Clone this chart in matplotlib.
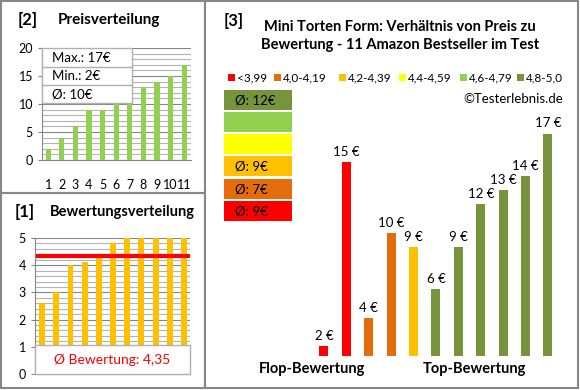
import numpy as np
import matplotlib.pyplot as plt
from matplotlib.patches import Rectangle

plt.rcParams['font.family'] = ['Lato', 'DejaVu Sans']

# data, products ordered by rating (as in panel [3])
prices = [2, 15, 4, 10, 9, 6, 9, 12, 13, 14, 17]
ratings = [2.6, 3.0, 4.0, 4.1, 4.3, 4.8, 5.0, 5.0, 5.0, 5.0, 5.0]

bin_labels = ['<3,99', '4,0-4,19', '4,2-4,39', '4,4-4,59', '4,6-4,79', '4,8-5,0']
bin_edges = [0, 3.995, 4.195, 4.395, 4.595, 4.795, 5.01]
bin_colors = ['#FF0000', '#E46C0A', '#FFC000', '#FFFF00', '#92D050', '#77933C']

W, H = 580, 390
fig = plt.figure(figsize=(W / 100, H / 100), dpi=100)


def px_axes(x0, y0, x1, y1, **kw):
    # axes placed by pixel box (top-left origin)
    return fig.add_axes([x0 / W, 1 - y1 / H, (x1 - x0) / W, (y1 - y0) / H], **kw)


def rnd(v):
    # round half up like the spreadsheet does
    return int(np.floor(v + 0.5))


def style_axis(ax):
    for s in ['top', 'right']:
        ax.spines[s].set_visible(False)
    for s in ['left', 'bottom']:
        ax.spines[s].set_color('#868686')
    ax.tick_params(axis='both', colors='#868686', labelcolor='black', labelsize=9, length=3)
    ax.grid(axis='y', which='major', color='#868686', linewidth=0.8)
    ax.grid(axis='y', which='minor', color='#b4b4b4', linewidth=0.8)
    ax.set_axisbelow(True)


# ---- panel [2]: price distribution
ax2 = px_axes(42, 48, 191, 160)
idx = np.arange(1, 12)
ax2.bar(idx, sorted(prices), width=0.38, color='#92D050', zorder=3)
ax2.set_xlim(0.55, 11.5)
ax2.set_ylim(0, 20)
ax2.set_yticks([0, 5, 10, 15, 20])
ax2.set_yticks(np.arange(0, 21, 1), minor=True)
ax2.set_xticks(idx)
style_axis(ax2)
ax2.tick_params(axis='y', which='minor', length=0)
ax2.tick_params(axis='x', length=0, pad=14)

# ---- panel [1]: rating distribution
ax1 = px_axes(35, 238, 190, 374)
ax1.bar(idx, sorted(ratings), width=0.42, color='#FFC000', zorder=3)
avg_rating = np.mean(ratings)
ax1.hlines(avg_rating, 0.6, 11.4, color='#FF0000', linewidth=3, zorder=4)
ax1.set_xlim(0.5, 11.42)
ax1.set_ylim(0, 5)
ax1.set_yticks(range(6))
ax1.set_yticks(np.arange(0, 5.01, 0.2), minor=True)
ax1.set_xticks([])
style_axis(ax1)
ax1.tick_params(axis='y', which='minor', length=0)

# ---- panel [3]: price vs rating
ax3 = px_axes(300, 60, 560, 356)
cols = [bin_colors[np.digitize(r, bin_edges) - 1] for r in ratings]
pos = np.arange(len(prices))
bars = ax3.bar(pos, prices, width=0.4, color=cols)
ax3.bar_label(bars, labels=['%d €' % p for p in prices], padding=3, fontsize=9.5)
ax3.set_xlim(-1.07, 10.54)
ax3.set_ylim(1.3, 22.2)
ax3.axis('off')

# ---- overlay in pixel coords
ov = fig.add_axes([0, 0, 1, 1], zorder=10)
ov.set_xlim(0, W)
ov.set_ylim(H, 0)
ov.axis('off')
ov.patch.set_visible(False)

bc = '#878787'
for (x0, y0, x1, y1) in [(1, 1, 205, 193), (1, 193, 205, 388), (205, 1, 578, 388)]:
    ov.add_patch(Rectangle((x0, y0), x1 - x0, y1 - y0, fill=False, ec=bc, lw=1.5))

# titles
ov.text(28, 20, '[2]', fontsize=12, fontweight='bold', ha='center', va='center')
ov.text(109, 20, 'Preisverteilung', fontsize=11, fontweight='bold', ha='center', va='center')
ov.text(25, 212, '[1]', fontsize=12, fontweight='bold', ha='center', va='center')
ov.text(122, 212, 'Bewertungsverteilung', fontsize=10.5, fontweight='bold', ha='center', va='center')
ov.text(234, 21, '[3]', fontsize=12, fontweight='bold', ha='center', va='center')
ov.text(400, 36, 'Mini Torten Form: Verhältnis von Preis zu\nBewertung - 11 Amazon Bestseller im Test',
        fontsize=10.5, fontweight='bold', ha='center', va='center', linespacing=1.4)

# stats table in panel [2]
stats = ['Max.: %d€' % max(prices), 'Min.: %d€' % min(prices), 'Ø: %d€' % rnd(np.mean(prices))]
ov.add_patch(Rectangle((42, 48), 90, 55, fc='white', ec='#b0b0b0', lw=1))
for k, s in enumerate(stats):
    y0 = 48 + k * 18.5
    if k > 0:
        ov.plot([42, 132], [y0, y0], color='#b0b0b0', lw=1)
    ov.text(52, y0 + 9.5, s, fontsize=9.5, va='center')

# average rating box in panel [1]
ov.add_patch(Rectangle((35, 345), 155, 29, fc='white', ec='#b0b0b0', lw=1))
ov.text(112, 360, 'Ø Bewertung: %s' % ('%.2f' % avg_rating).replace('.', ','),
        fontsize=10, color='#FF0000', ha='center', va='center')

# colour boxes with group averages, top = best rating
box_tops = [90, 112, 134, 156, 179, 201]
for k, b in enumerate(range(5, -1, -1)):
    grp = [p for p, r in zip(prices, ratings) if bin_edges[b] <= r < bin_edges[b + 1]]
    y0 = box_tops[k]
    ov.add_patch(Rectangle((224, y0), 68, 20, fc=bin_colors[b], ec='none'))
    if grp:
        ov.text(235, y0 + 10.5, 'Ø: %d€' % rnd(np.mean(grp)), fontsize=9.5, va='center')

# legend row
leg_x = [228, 274, 339, 399, 460, 517]
for x, c, l in zip(leg_x, bin_colors, bin_labels):
    ov.add_patch(Rectangle((x, 74), 7, 7, fc=c, ec='none'))
    ov.text(x + 9, 78, l, fontsize=8.5, va='center')

ov.text(563, 99, '©Testerlebnis.de', fontsize=9.5, ha='right', va='center')
ov.text(312, 369, 'Flop-Bewertung', fontsize=10.5, fontweight='bold', ha='center', va='center')
ov.text(474, 369, 'Top-Bewertung', fontsize=10.5, fontweight='bold', ha='center', va='center')

fig.savefig('out.png', dpi=100)
